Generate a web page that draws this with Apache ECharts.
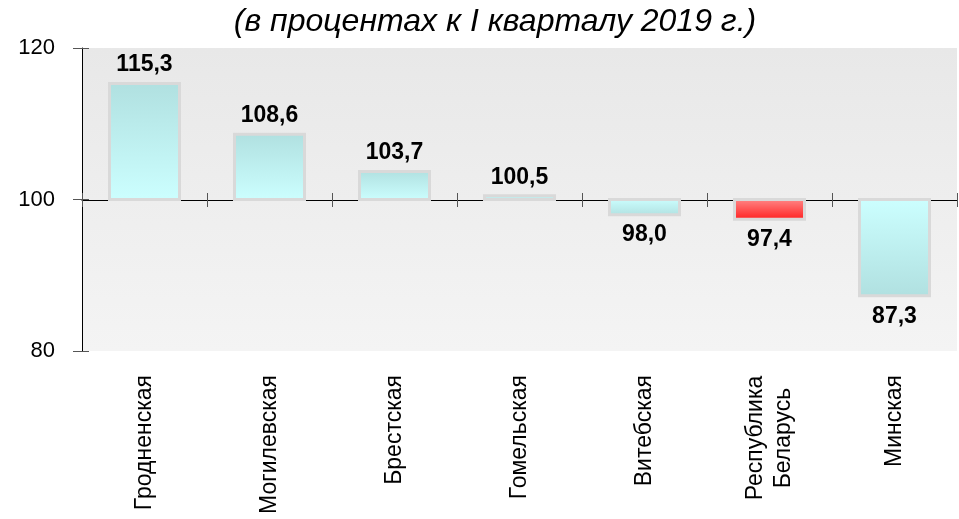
<!DOCTYPE html>
<html>
<head>
<meta charset="utf-8">
<script src="https://cdn.jsdelivr.net/npm/echarts@6/dist/echarts.min.js"></script>
<style>
    html, body { margin: 0; padding: 0; background: #fff; }
    #main { width: 959px; height: 519px; }
</style>
</head>
<body>
<div id="main"></div>
<script>
// регионы и индексы (в процентах к I кварталу 2019 г.)
var regions = ['Гродненская', 'Могилевская', 'Брестская', 'Гомельская', 'Витебская', 'Республика\nБеларусь', 'Минская'];
var values = [115.3, 108.6, 103.7, 100.5, 98.0, 97.4, 87.3];
var labels = ['115,3', '108,6', '103,7', '100,5', '98,0', '97,4', '87,3'];
var yTicks = [80, 100, 120];
var baseValue = 100;
var highlightIndex = 5; // Республика Беларусь

var font = 'Liberation Sans, Arial, sans-serif';

function barColor(idx, up) {
    var light = '#ccffff', dark = '#b0e0e0';
    if (idx == highlightIndex) {
        light = '#ff8c8c';
        dark = '#ff1c1c';
    }
    // тёмный цвет на конце столбика, светлый у базы
    return new echarts.graphic.LinearGradient(0, 0, 0, 1, up
        ? [{offset: 0, color: dark}, {offset: 1, color: light}]
        : [{offset: 0, color: light}, {offset: 1, color: dark}]);
}

var data = values.map(function (v, i) { return [i, v]; });

var option = {
    animation: false,
    backgroundColor: '#ffffff',
    title: {
        text: '(в процентах к I кварталу 2019 г.)',
        left: 490,
        top: 1,
        textAlign: 'center',
        textStyle: {fontFamily: font, fontSize: 32, fontStyle: 'italic', fontWeight: 'normal', color: '#000'}
    },
    grid: {
        left: 82, right: 2, top: 48, bottom: 168,
        show: true,
        borderWidth: 0,
        backgroundColor: new echarts.graphic.LinearGradient(0, 0, 0, 1, [
            {offset: 0, color: '#e8e8e8'},
            {offset: 1, color: '#f4f4f4'}
        ])
    },
    xAxis: [
        {
            type: 'category',
            data: regions,
            position: 'bottom',
            axisLine: {show: false},
            axisTick: {show: false},
            axisLabel: {
                rotate: 90,
                margin: 24,
                fontFamily: font,
                fontSize: 23,
                color: '#000',
                lineHeight: 28,
                formatter: function (val) {
                    if (val.indexOf('\n') < 0) return val;
                    return val.split('\n').map(function (s) { return '{c|' + s + '}'; }).join('\n');
                },
                rich: {
                    c: {fontFamily: font, fontSize: 23, color: '#000', lineHeight: 28, width: 126, align: 'center'}
                }
            }
        },
        {
            type: 'category',
            data: regions,
            position: 'bottom',
            offset: -151,
            axisLine: {show: true, onZero: false, lineStyle: {color: '#000', width: 1}},
            axisTick: {show: true, length: 7, lineStyle: {color: '#555'}},
            axisLabel: {show: false}
        },
        {
            type: 'category',
            data: regions,
            position: 'bottom',
            offset: -151,
            axisLine: {show: false, onZero: false},
            axisTick: {show: true, inside: true, length: 7, lineStyle: {color: '#555'}},
            axisLabel: {show: false}
        }
    ],
    yAxis: [
        {
            type: 'value',
            min: yTicks[0],
            max: yTicks[yTicks.length - 1],
            interval: 20,
            splitLine: {show: false},
            axisLine: {show: true, lineStyle: {color: '#000'}},
            axisTick: {show: true, length: 9, lineStyle: {color: '#555'}},
            axisLabel: {fontFamily: font, fontSize: 22, color: '#000', margin: 27}
        },
        {
            type: 'value',
            position: 'left',
            min: yTicks[0],
            max: yTicks[yTicks.length - 1],
            interval: 20,
            splitLine: {show: false},
            axisLine: {show: false},
            axisTick: {show: true, inside: true, length: 7, lineStyle: {color: '#555'}},
            axisLabel: {show: false}
        }
    ],
    series: [
        {
            type: 'custom',
            xAxisIndex: 0,
            yAxisIndex: 0,
            data: data,
            clip: false,
            renderItem: function (params, api) {
                var idx = api.value(0);
                var v = api.value(1);
                var base = api.coord([idx, baseValue]);
                var end = api.coord([idx, v]);
                var w = api.size([1, 0])[0] * 0.56;
                var up = v >= baseValue;
                var top = Math.min(base[1], end[1]);
                var h = Math.abs(base[1] - end[1]);
                return {
                    type: 'group',
                    children: [
                        {
                            type: 'rect',
                            shape: {x: base[0] - w / 2, y: top, width: w, height: h},
                            style: {fill: barColor(idx, up), stroke: '#d9d9d9', lineWidth: 3}
                        },
                        {
                            type: 'text',
                            style: {
                                text: labels[idx],
                                x: base[0],
                                y: up ? end[1] - 7 : end[1] + 9,
                                textAlign: 'center',
                                textVerticalAlign: up ? 'bottom' : 'top',
                                font: 'bold 23px ' + font,
                                fill: '#000'
                            }
                        }
                    ]
                };
            }
        }
    ]
};

var chart = echarts.init(document.getElementById('main'));
chart.setOption(option);
</script>
</body>
</html>
